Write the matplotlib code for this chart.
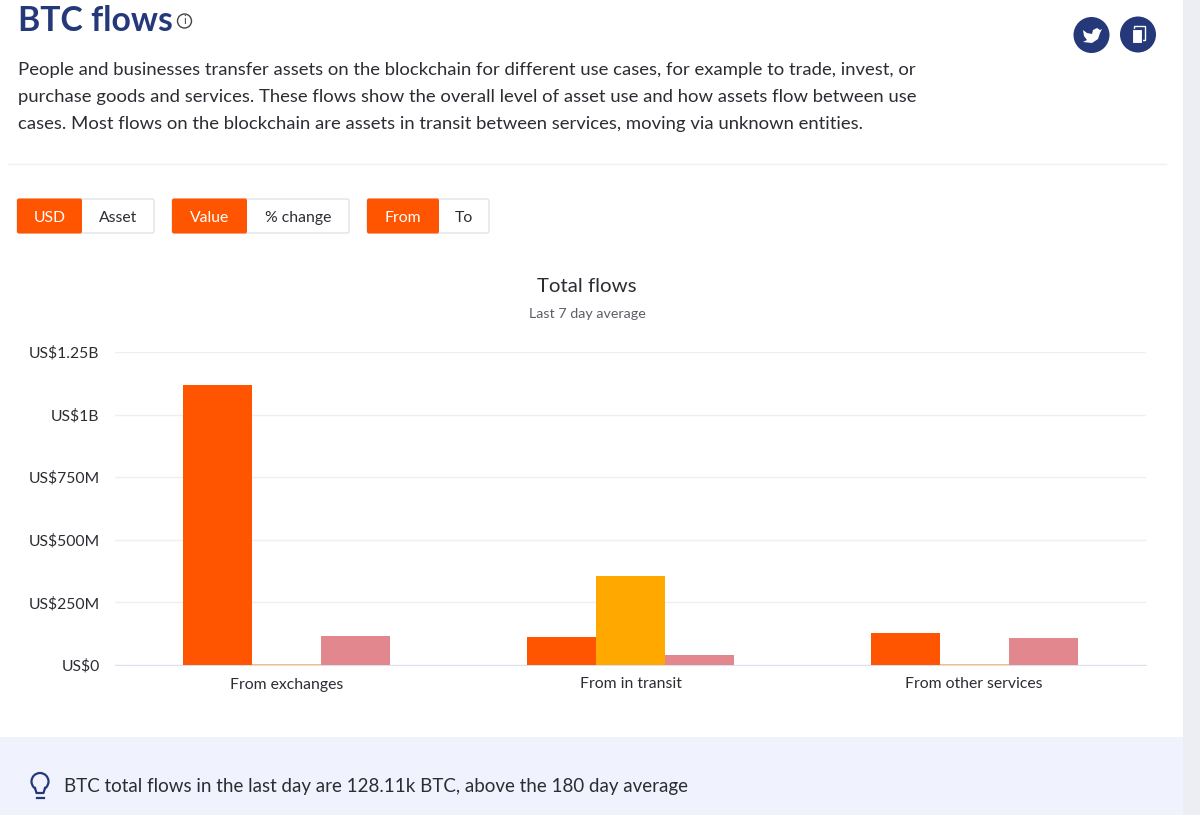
import numpy as np
import matplotlib
matplotlib.use('Agg')
import matplotlib.pyplot as plt
from matplotlib.patches import Rectangle, FancyBboxPatch, Circle, Polygon

categories = ['From exchanges', 'From in transit', 'From other services']
exchanges = [1118, 112, 128]
in_transit = [5, 355, 5]
other = [116, 40, 108]
tick_values = [0, 250, 500, 750, 1000, 1250]
tick_labels = ['US$0', 'US$250M', 'US$500M', 'US$750M', 'US$1B', 'US$1.25B']

intro = ['People and businesses transfer assets on the blockchain for different use cases, for example to trade, invest, or',
         'purchase goods and services. These flows show the overall level of asset use and how assets flow between use',
         'cases. Most flows on the blockchain are assets in transit between services, moving via unknown entities.']
buttons = [('USD', 'Asset', 17, 82, 154), ('Value', '% change', 172, 247, 349), ('From', 'To', 367, 439, 489)]

NAVY = '#25397a'
ORANGE = '#ff5500'
YELLOW = '#ffa800'
PINK = '#e2878e'
TEXT = '#2b2d33'

plt.rcParams['font.family'] = ['Lato', 'DejaVu Sans']

fig = plt.figure(figsize=(12, 8.15), dpi=100)

# page furniture, in pixel coordinates
bg = fig.add_axes([0, 0, 1, 1])
bg.set_xlim(0, 1200)
bg.set_ylim(815, 0)
bg.axis('off')

bg.add_patch(Rectangle((1183, 0), 17, 815, color='#eceef3', lw=0))
bg.add_patch(Rectangle((0, 737), 1183, 78, color='#f0f3fd', lw=0))
bg.plot([8, 1166], [164, 164], color='#f0f0f2', lw=1)

bg.text(18, 21, 'BTC flows', fontsize=24.3, fontweight='bold', color=NAVY, va='center')
bg.add_patch(Circle((184.5, 21), 7, fc='none', ec='#444444', lw=1))
bg.text(184.5, 21, 'i', fontsize=8, color='#444444', ha='center', va='center')

for i, line in enumerate(intro):
    bg.text(18, 69.5 + i * 27.5, line, fontsize=13.32, color=TEXT, va='center')

for on, off, x0, x1, x2 in buttons:
    bg.add_patch(FancyBboxPatch((x0, 199), x2 - x0, 34, boxstyle='round,pad=0,rounding_size=2',
                                fc='white', ec='#e2e3e6', lw=1))
    bg.add_patch(FancyBboxPatch((x0, 198.5), x1 - x0, 35, boxstyle='round,pad=0,rounding_size=2',
                                fc=ORANGE, ec='none'))
    bg.text((x0 + x1) / 2, 218, on, fontsize=11.3, color='white', ha='center', va='center')
    bg.text((x1 + x2) / 2, 218, off, fontsize=11.3, color=TEXT, ha='center', va='center')

# share and copy icons
bg.add_patch(Circle((1091.5, 35), 18, fc=NAVY, ec='none'))
bg.add_patch(Polygon([(1083, 30), (1087, 33), (1092, 34), (1093, 30), (1097, 28), (1100, 30), (1102, 29),
                      (1100, 33), (1098, 39), (1092, 43), (1083, 42), (1087, 40), (1084, 36)],
                     fc='white', ec='none'))
bg.add_patch(Circle((1138, 34.5), 18, fc=NAVY, ec='none'))
bg.add_patch(Rectangle((1134, 25.5), 11, 14, fc='none', ec='white', lw=1))
bg.add_patch(Rectangle((1131.5, 28.5), 10, 14.5, fc='white', ec=NAVY, lw=0.8))

# bulb icon
bg.add_patch(Circle((40, 781.5), 8.5, fc='none', ec=NAVY, lw=1.6))
bg.add_patch(Rectangle((35.5, 788), 9, 5, fc='#f0f3fd', ec='none'))
bg.plot([35, 36.5, 43.5, 45], [788, 793, 793, 788], color=NAVY, lw=1.6)
bg.plot([36.5, 43.5], [797.5, 797.5], color=NAVY, lw=1.6)
bg.text(64, 786.5, 'BTC total flows in the last day are 128.11k BTC, above the 180 day average',
        fontsize=13.48, color=TEXT, va='center')

bg.text(587, 287, 'Total flows', fontsize=14.7, color=TEXT, ha='center', va='center')
bg.text(587, 313.5, 'Last 7 day average', fontsize=10.3, color='#5c5f66', ha='center', va='center')

# chart area runs x 115-1146, y 352-665 in pixels
ax = fig.add_axes([115 / 1200, 1 - 665 / 815, (1146 - 115) / 1200, (665 - 352) / 815])
ax.patch.set_alpha(0)

x = np.arange(len(categories))
w = 0.201
ax.bar(x - w, exchanges, w, color=ORANGE, zorder=3)
ax.bar(x, in_transit, w, color='#ffbe6e', zorder=3)
ax.bar(x[1], in_transit[1], w, color=YELLOW, zorder=3)
ax.bar(x + w, other, w, color=PINK, zorder=3)

ax.set_xlim(-0.5, 2.5)
ax.set_ylim(0, 1250)
ax.set_yticks(tick_values)
ax.set_yticklabels(tick_labels, fontsize=11.3, color=TEXT)
ax.set_xticks(x)
ax.set_xticklabels(categories, fontsize=11.3, color=TEXT)
ax.tick_params(axis='both', length=0)
ax.tick_params(axis='y', pad=11)
ax.tick_params(axis='x', pad=9)
ax.grid(axis='y', color='#eeeff2', lw=1, zorder=0)
for s in ['top', 'left', 'right']:
    ax.spines[s].set_visible(False)
ax.spines['bottom'].set_color('#dcdff0')

fig.savefig('out.png', dpi=100)
